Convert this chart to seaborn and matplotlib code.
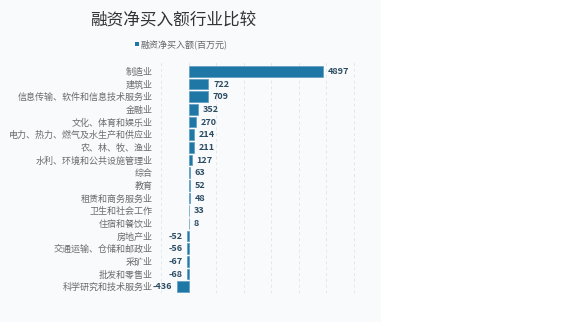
import pandas as pd
import matplotlib.pyplot as plt
import seaborn as sns
from matplotlib.patches import Rectangle

# =========================
# Dados
# =========================
industries = ['制造业', '建筑业', '信息传输、软件和信息技术服务业', '金融业',
              '文化、体育和娱乐业', '电力、热力、燃气及水生产和供应业', '农、林、牧、渔业',
              '水利、环境和公共设施管理业', '综合', '教育', '租赁和商务服务业',
              '卫生和社会工作', '住宿和餐饮业', '房地产业', '交通运输、仓储和邮政业',
              '采矿业', '批发和零售业', '科学研究和技术服务业']
net_buy = [4897, 722, 709, 352, 270, 214, 211, 127, 63, 52, 48, 33, 8,
           -52, -56, -67, -68, -436]
series_name = '融资净买入额(百万元)'
title = '融资净买入额行业比较'

df = pd.DataFrame({'industry': industries, 'value': net_buy})

sns.set_theme(style='white')
plt.rcParams['font.family'] = ['Noto Sans CJK SC', 'DejaVu Sans']

bar_color = '#1f77a6'
panel_color = '#f8fafc'

fig = plt.figure(figsize=(5.76, 3.22), dpi=100, facecolor='white')
fig.patches.append(Rectangle((0, 0), 381 / 576, 1, transform=fig.transFigure,
                             facecolor=panel_color, edgecolor='none', zorder=-1))

ax = fig.add_axes([161 / 576, 1 - 293 / 322, 220 / 576, 233 / 322])
ax.set_facecolor(panel_color)

sns.barplot(data=df, x='value', y='industry', color=bar_color, width=0.85,
            saturation=1, edgecolor='#5e9cc0', linewidth=0.5, ax=ax, orient='h')

ax.set_xlim(-1000, 7000)
ax.set_ylim(len(industries) - 0.5, -0.9)
ax.set_xticks(range(-1000, 7001, 1000))
ax.set_xticklabels([])
ax.xaxis.grid(True, linestyle=(0, (3, 3)), color='#e3e6ea', linewidth=0.7)
ax.set_axisbelow(True)
ax.tick_params(axis='both', length=0)
ax.tick_params(axis='y', labelsize=6.5, labelcolor='#6b6b6b', pad=6)
ax.set_xlabel('')
ax.set_ylabel('')
for s in ax.spines.values():
    s.set_visible(False)

# rótulos de valor
for i, v in enumerate(net_buy):
    if v >= 0:
        ax.text(v + 170, i, str(v), va='center', ha='left', fontsize=6.5,
                fontweight='bold', color='#2c4c62')
    else:
        ax.text(v - 150, i, str(v), va='center', ha='right', fontsize=6.5,
                fontweight='bold', color='#2c4c62')

# título e legenda
fig.text(173 / 576, 1 - 20 / 322, title, ha='center', va='center',
         fontsize=12, color='#333333')
fig.patches.append(Rectangle((135 / 576, 1 - 46 / 322), 4 / 576, 4 / 322,
                             transform=fig.transFigure, facecolor=bar_color,
                             edgecolor='none'))
fig.text(141 / 576, 1 - 44 / 322, series_name, ha='left', va='center',
         fontsize=6.5, color='#666666')

plt.savefig('out.png', dpi=100, facecolor='white')
